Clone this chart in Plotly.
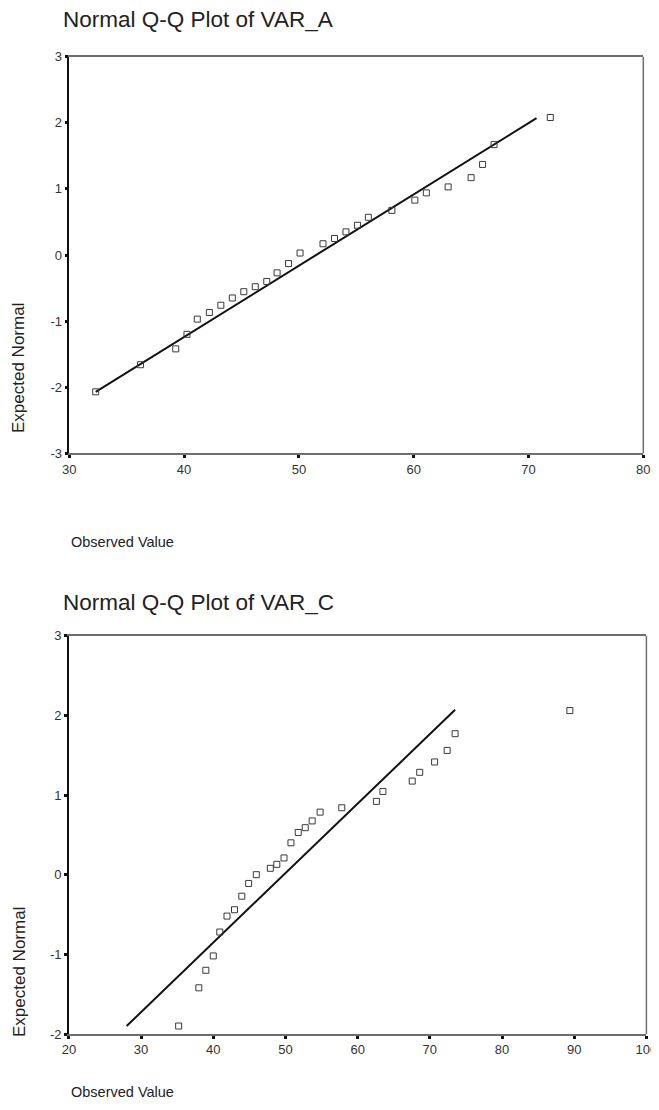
import plotly.graph_objects as go

# ---- data ----
a_observed = [32.3, 36.2, 39.27, 40.25, 41.15, 42.2, 43.2, 44.2, 45.2, 46.2, 47.2, 48.1,
              49.1, 50.1, 52.1, 53.1, 54.1, 55.1, 56.05, 58.1, 60.1, 61.1, 63.0, 65.0,
              66.0, 67.0, 71.9]
a_expected = [-2.07, -1.66, -1.42, -1.20, -0.97, -0.87, -0.76, -0.65, -0.555, -0.48, -0.40,
              -0.27, -0.13, 0.03, 0.17, 0.25, 0.35, 0.45, 0.57, 0.675, 0.83, 0.94, 1.03,
              1.17, 1.37, 1.67, 2.08]
a_line_x = [32.3, 70.7]
a_line_y = [-2.07, 2.07]

c_observed = [35.2, 38.0, 38.97, 40.0, 40.9, 41.9, 42.94, 43.95, 44.9, 45.96, 47.9, 48.8,
              49.8, 50.76, 51.77, 52.74, 53.7, 54.8, 57.8, 62.6, 63.5, 67.56, 68.6, 70.66,
              72.4, 73.5, 89.4]
c_expected = [-1.90, -1.42, -1.20, -1.02, -0.72, -0.52, -0.44, -0.27, -0.11, 0.0, 0.08, 0.13,
              0.21, 0.40, 0.53, 0.59, 0.675, 0.785, 0.84, 0.92, 1.045, 1.175, 1.285, 1.415,
              1.56, 1.77, 2.06]
c_line_x = [28.0, 73.5]
c_line_y = [-1.90, 2.07]

titles = ["Normal Q-Q Plot of VAR_A", "Normal Q-Q Plot of VAR_C"]
x_label = "Observed Value"
y_label = "Expected Normal"
a_xticks = [30, 40, 50, 60, 70, 80]
a_yticks = [-3, -2, -1, 0, 1, 2, 3]
c_xticks = [20, 30, 40, 50, 60, 70, 80, 90, 100]
c_yticks = [-2, -1, 0, 1, 2, 3]

# the page body has an 8px default margin: size the figure so it ends at the window edge
OFF = 8
WIN_W, WIN_H = 659, 1110
W, H = WIN_W - OFF, WIN_H - OFF
FONT = "Liberation Sans, Arial, sans-serif"


def py(p):
    return 1 - (p - OFF) / H


def px(p):
    return (p - OFF) / W


fig = go.Figure()

marker = dict(symbol="square-open", size=6, color="#3a3a3a", line=dict(width=1, color="#3a3a3a"))
line_style = dict(color="#111111", width=2)

fig.add_trace(go.Scatter(x=a_line_x, y=a_line_y, mode="lines", line=line_style,
                         xaxis="x", yaxis="y", showlegend=False, hoverinfo="skip"))
fig.add_trace(go.Scatter(x=a_observed, y=a_expected, mode="markers", marker=marker,
                         xaxis="x", yaxis="y", showlegend=False))
fig.add_trace(go.Scatter(x=c_line_x, y=c_line_y, mode="lines", line=line_style,
                         xaxis="x2", yaxis="y2", showlegend=False, hoverinfo="skip"))
fig.add_trace(go.Scatter(x=c_observed, y=c_expected, mode="markers", marker=marker,
                         xaxis="x2", yaxis="y2", showlegend=False))

tickfont = dict(family=FONT, size=13, color="#333333")
xcommon = dict(showgrid=False, zeroline=False, showline=True, linecolor="#6e6e6e",
               linewidth=1.5, mirror=True, ticks="outside", ticklen=3, tickwidth=3,
               tickcolor="#111111", tickfont=tickfont, fixedrange=True, automargin=False)
ycommon = dict(showgrid=False, zeroline=False, showline=True, linecolor="#111111",
               linewidth=1.5, mirror=False, ticks="outside", ticklen=3, tickwidth=3,
               tickcolor="#111111", tickfont=tickfont, fixedrange=True, automargin=False)


def labels(vals):
    return [str(v) for v in vals]


fig.update_layout(
    template="none",
    width=W, height=H,
    margin=dict(l=0, r=0, t=0, b=0, pad=0, autoexpand=False),
    paper_bgcolor="white", plot_bgcolor="white",
    showlegend=False,
    xaxis=dict(xcommon, domain=[px(69.3), px(643.3)], range=[30, 80],
               tickvals=a_xticks, ticktext=labels(a_xticks), anchor="y"),
    yaxis=dict(ycommon, domain=[py(453.3), py(56.7)], range=[-3, 3],
               tickvals=a_yticks, ticktext=labels(a_yticks), anchor="x"),
    xaxis2=dict(xcommon, domain=[px(68.9), px(646.4)], range=[20, 100],
                tickvals=c_xticks, ticktext=labels(c_xticks), anchor="y2"),
    yaxis2=dict(ycommon, domain=[py(1034), py(635.7)], range=[-2, 3],
                tickvals=c_yticks, ticktext=labels(c_yticks), anchor="x2"),
)

# right-hand frame edges (gray)
for xr, yr in (("x domain", "y domain"), ("x2 domain", "y2 domain")):
    fig.add_shape(type="line", xref=xr, yref=yr, x0=1, x1=1, y0=0, y1=1,
                  line=dict(color="#6e6e6e", width=1.5))

ann = []
for t, yy in zip(titles, (20, 602)):
    ann.append(dict(text=t, x=px(61), y=py(yy), xref="paper", yref="paper",
                    xanchor="left", yanchor="middle", showarrow=False,
                    font=dict(family=FONT, size=22.5, color="#222222")))
for yy in (542, 1092):
    ann.append(dict(text=x_label, x=px(69), y=py(yy), xref="paper", yref="paper",
                    xanchor="left", yanchor="middle", showarrow=False,
                    font=dict(family=FONT, size=14.5, color="#222222")))
for yy in (368, 972):
    ann.append(dict(text=y_label, x=px(19), y=py(yy), xref="paper", yref="paper",
                    xanchor="center", yanchor="middle", showarrow=False, textangle=-90,
                    font=dict(family=FONT, size=17, color="#222222")))
fig.update_layout(annotations=ann)

fig.write_html("out.html")
